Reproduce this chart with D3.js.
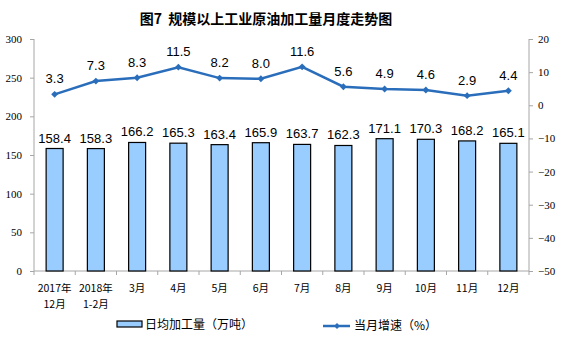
<!DOCTYPE html>
<html><head><meta charset="utf-8">
<script src="https://cdn.jsdelivr.net/npm/d3@7"></script>
<style>body{margin:0;background:#fff}svg{display:block}</style>
</head><body>
<script>
const categories = ["2017年\n12月","2018年\n1-2月","3月","4月","5月","6月","7月","8月","9月","10月","11月","12月"];
const dailyOutput = [158.4,158.3,166.2,165.3,163.4,165.9,163.7,162.3,171.1,170.3,168.2,165.1];
const growth = [3.3,7.3,8.3,11.5,8.2,8.0,11.6,5.6,4.9,4.6,2.9,4.4];
const leftTicks = [0,50,100,150,200,250,300];
const rightTicks = [-50,-40,-30,-20,-10,0,10,20];
const title = "图7  规模以上工业原油加工量月度走势图";
const legendBar = "日均加工量（万吨）";
const legendLine = "当月增速（%）";

const W=561,H=357;
const L=34,R=529,T=39,B=271;
const svg=d3.select("body").append("svg").attr("width",W).attr("height",H);
const x=d3.scaleBand().domain(d3.range(categories.length)).range([L,R]);
const yL=d3.scaleLinear().domain([0,300]).range([B,T]);
const yR=d3.scaleLinear().domain([-50,20]).range([B,T]);
const axisColor="#a6a6a6";
const blue="#2a6ebb";
const serif="'Liberation Serif','Times New Roman',serif";
const sans="'Liberation Sans',Arial,sans-serif";
const cjk="'Noto Sans CJK SC',sans-serif";

svg.append("text").attr("x",266).attr("y",24).attr("text-anchor","middle").style("white-space","pre")
  .attr("font-family",cjk).attr("font-size",14).attr("font-weight","bold").attr("fill","#000").text(title);

// left axis
const gl=svg.append("g").attr("transform",`translate(${L},0)`)
  .call(d3.axisLeft(yL).tickValues(leftTicks).tickSize(4).tickPadding(8));
gl.selectAll("path,line").attr("stroke",axisColor);
gl.select(".domain").attr("d",`M0,${T}V${B}`);
gl.selectAll("text").attr("font-family",serif).attr("font-size",11).attr("fill","#000");

const gr=svg.append("g").attr("transform",`translate(${R},0)`)
  .call(d3.axisRight(yR).tickValues(rightTicks).tickSize(4).tickPadding(5));
gr.selectAll("path,line").attr("stroke",axisColor);
gr.select(".domain").attr("d",`M0,${T}V${B}`);
gr.selectAll("text").attr("font-family",serif).attr("font-size",11).attr("fill","#000");

// bottom axis
const gb=svg.append("g").attr("transform",`translate(0,${B})`);
gb.append("line").attr("x1",L).attr("x2",R).attr("stroke",axisColor);
gb.selectAll("line.t").data(d3.range(categories.length+1)).enter().append("line")
  .attr("x1",i=>L+i*x.step()).attr("x2",i=>L+i*x.step()).attr("y1",0).attr("y2",4).attr("stroke",axisColor);
const xl=gb.selectAll("text").data(categories).enter().append("text")
  .attr("text-anchor","middle").attr("font-family",cjk).attr("font-size",10.5).attr("fill","#000");
xl.each(function(d,i){
  const parts=d.split("\n");
  parts.forEach((p,j)=>d3.select(this).append("tspan").attr("x",x(i)+x.bandwidth()/2).attr("y",21+j*16).text(p));
});

// bars
const bw=17;
svg.selectAll("rect.bar").data(dailyOutput).enter().append("rect")
  .attr("x",(d,i)=>x(i)+x.bandwidth()/2-bw/2).attr("width",bw)
  .attr("y",d=>yL(d)).attr("height",d=>B-yL(d))
  .attr("fill","#99ccff").attr("stroke","#000").attr("stroke-width",1.2);
svg.selectAll("text.bl").data(dailyOutput).enter().append("text")
  .attr("x",(d,i)=>x(i)+x.bandwidth()/2).attr("y",d=>yL(d)-6)
  .attr("text-anchor","middle").attr("font-family",sans).attr("font-size",13).attr("fill","#000").text(d=>d.toFixed(1));

// line
const line=d3.line().x((d,i)=>x(i)+x.bandwidth()/2).y(d=>yR(d));
svg.append("path").datum(growth).attr("d",line).attr("fill","none").attr("stroke",blue).attr("stroke-width",2.5);
svg.selectAll("path.m").data(growth).enter().append("path")
  .attr("d",d3.symbol(d3.symbolDiamond2,30))
  .attr("transform",(d,i)=>`translate(${x(i)+x.bandwidth()/2},${yR(d)})`).attr("fill",blue);
svg.selectAll("text.ll").data(growth).enter().append("text")
  .attr("x",(d,i)=>x(i)+x.bandwidth()/2).attr("y",d=>yR(d)-11)
  .attr("text-anchor","middle").attr("font-family",sans).attr("font-size",13).attr("fill","#000").text(d=>d.toFixed(1));

// legend
svg.append("rect").attr("x",117).attr("y",321).attr("width",25).attr("height",6)
  .attr("fill","#99ccff").attr("stroke","#000").attr("stroke-width",1.2);
svg.append("text").attr("x",145).attr("y",329).attr("font-family",cjk).attr("font-size",12).attr("fill","#000").text(legendBar);
svg.append("line").attr("x1",323).attr("x2",350).attr("y1",326).attr("y2",326).attr("stroke",blue).attr("stroke-width",2.5);
svg.append("path").attr("d",d3.symbol(d3.symbolDiamond2,22)).attr("transform","translate(337,326)").attr("fill",blue);
svg.append("text").attr("x",354).attr("y",330).attr("font-family",cjk).attr("font-size",12).attr("fill","#000").text(legendLine);
</script>
</body></html>
